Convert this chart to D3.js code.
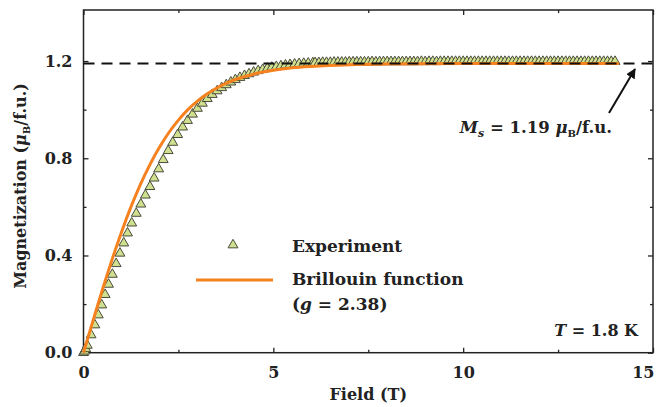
<!DOCTYPE html>
<html>
<head>
<meta charset="utf-8">
<script src="https://cdn.jsdelivr.net/npm/d3@7"></script>
<style>
  body { margin: 0; background: #fff; }
  svg text { font-family: "DejaVu Serif", serif; font-weight: bold; fill: #222; }
  .tick line { stroke: #222; stroke-width: 1.3; }
  .domain { display: none; }
</style>
</head>
<body>
<div id="chart"></div>
<script>
const fieldExp = [
  0.00, 0.03, 0.06, 0.10, 0.20, 0.30, 0.39, 0.48, 0.57, 0.66,
  0.76, 0.86, 0.96, 1.06, 1.16, 1.27, 1.39, 1.51, 1.63, 1.75,
  1.86, 1.98, 2.10, 2.23, 2.35, 2.48, 2.61, 2.74, 2.87, 3.00,
  3.13, 3.26, 3.39, 3.52, 3.64, 3.76, 3.88, 4.00, 4.12, 4.24,
  4.36, 4.48, 4.60, 4.72, 4.84, 4.96, 5.08, 5.20, 5.32, 5.44,
  5.56, 5.68, 5.80, 5.92, 6.04,
  6.1, 6.2, 6.3, 6.4, 6.5, 6.6, 6.7, 6.8, 6.9, 7.0,
  7.1, 7.2, 7.3, 7.4, 7.5, 7.6, 7.7, 7.8, 7.9, 8.0,
  8.1, 8.2, 8.3, 8.4, 8.5, 8.6, 8.7, 8.8, 8.9, 9.0,
  9.1, 9.2, 9.3, 9.4, 9.5, 9.6, 9.7, 9.8, 9.9, 10.0,
  10.1, 10.2, 10.3, 10.4, 10.5, 10.6, 10.7, 10.8, 10.9, 11.0,
  11.1, 11.2, 11.3, 11.4, 11.5, 11.6, 11.7, 11.8, 11.9, 12.0,
  12.1, 12.2, 12.3, 12.4, 12.5, 12.6, 12.7, 12.8, 12.9, 13.0,
  13.1, 13.2, 13.3, 13.4, 13.5, 13.6, 13.7, 13.8, 13.9, 14.0
];
const momentExp = [
  0.000, 0.006, 0.016, 0.030, 0.073, 0.114, 0.155, 0.196, 0.239, 0.281,
  0.322, 0.366, 0.409, 0.451, 0.492, 0.533, 0.573, 0.611, 0.648, 0.683,
  0.718, 0.756, 0.794, 0.831, 0.865, 0.897, 0.928, 0.955, 0.981, 1.005,
  1.026, 1.045, 1.062, 1.077, 1.090, 1.102, 1.113, 1.123, 1.132, 1.140,
  1.147, 1.154, 1.160, 1.165, 1.170, 1.174, 1.177, 1.180, 1.183, 1.185,
  1.187, 1.189, 1.190, 1.191, 1.192,
  1.193, 1.193, 1.194, 1.194, 1.194, 1.195, 1.195, 1.195, 1.195, 1.196,
  1.196, 1.196, 1.196, 1.196, 1.196, 1.197, 1.196, 1.197, 1.197, 1.197,
  1.197, 1.197, 1.197, 1.197, 1.197, 1.197, 1.197, 1.197, 1.198, 1.197,
  1.198, 1.198, 1.197, 1.198, 1.198, 1.198, 1.198, 1.198, 1.198, 1.198,
  1.198, 1.198, 1.198, 1.198, 1.198, 1.198, 1.198, 1.198, 1.198, 1.198,
  1.198, 1.198, 1.198, 1.198, 1.198, 1.198, 1.198, 1.198, 1.198, 1.198,
  1.198, 1.198, 1.198, 1.198, 1.198, 1.198, 1.198, 1.198, 1.198, 1.198,
  1.198, 1.198, 1.198, 1.198, 1.198, 1.198, 1.198, 1.198, 1.198, 1.198
];

// Brillouin curve (g = 2.38)
const fieldFit = [0, 0.25, 0.5, 0.75, 1.0, 1.25, 1.5, 1.75, 2.0, 2.25, 2.5, 2.75,
  3.0, 3.25, 3.5, 3.75, 4.0, 4.5, 5.0, 5.5, 6.0, 7.0, 8.0, 10.0, 12.0, 14.1];
const momentFit = [0, 0.131, 0.260, 0.382, 0.496, 0.600, 0.693, 0.774, 0.845, 0.906, 0.957, 1.000,
  1.035, 1.064, 1.088, 1.108, 1.124, 1.147, 1.162, 1.172, 1.178, 1.185, 1.188, 1.190, 1.190, 1.190];

const saturation = 1.19;
const xTicks = [0, 5, 10, 15], xMinor = [2.5, 7.5, 12.5];
const yTicks = [0, 0.4, 0.8, 1.2], yMinor = [0.2, 0.6, 1.0];

const svgWidth = 656, svgHeight = 407;
const plotLeft = 83.5, plotRight = 653, plotTop = 10, plotBottom = 352.7;

const svg = d3.select("#chart").append("svg")
  .attr("width", svgWidth)
  .attr("height", svgHeight);

const x = d3.scaleLinear().domain([0, 15]).range([plotLeft, plotRight]);
const y = d3.scaleLinear().domain([0, 1.41]).range([plotBottom, plotTop]);

// axes, ticks pointing inward
svg.append("g").attr("transform", `translate(0,${plotBottom})`)
  .call(d3.axisBottom(x).tickValues(xTicks).tickSize(-5).tickPadding(14).tickFormat(d3.format("d")))
  .call(g => g.selectAll("text").attr("font-size", 16).attr("font-family", null))
  .call(g => g.selectAll("text").filter(d => d === 15).attr("text-anchor", "end").attr("x", 1));
svg.append("g").attr("transform", `translate(0,${plotBottom})`)
  .call(d3.axisBottom(x).tickValues(xMinor).tickSize(-3).tickFormat(""));
svg.append("g").attr("transform", `translate(0,${plotTop})`)
  .call(d3.axisTop(x).tickValues(xTicks).tickSize(-5).tickFormat(""));
svg.append("g").attr("transform", `translate(0,${plotTop})`)
  .call(d3.axisTop(x).tickValues(xMinor).tickSize(-3).tickFormat(""));

svg.append("g").attr("transform", `translate(${plotLeft},0)`)
  .call(d3.axisLeft(y).tickValues(yTicks).tickSize(-5).tickPadding(11).tickFormat(d3.format(".1f")))
  .call(g => g.selectAll("text").attr("font-size", 16).attr("font-family", null));
svg.append("g").attr("transform", `translate(${plotLeft},0)`)
  .call(d3.axisLeft(y).tickValues(yMinor).tickSize(-3).tickFormat(""));
svg.append("g").attr("transform", `translate(${plotRight},0)`)
  .call(d3.axisRight(y).tickValues(yTicks).tickSize(-5).tickFormat(""));
svg.append("g").attr("transform", `translate(${plotRight},0)`)
  .call(d3.axisRight(y).tickValues(yMinor).tickSize(-3).tickFormat(""));

svg.append("rect")
  .attr("x", plotLeft).attr("y", plotTop)
  .attr("width", plotRight - plotLeft).attr("height", plotBottom - plotTop)
  .attr("fill", "none").attr("stroke", "#222").attr("stroke-width", 1.5);

// axis titles
svg.append("text")
  .attr("x", (plotLeft + plotRight) / 2).attr("y", 400)
  .attr("text-anchor", "middle").attr("font-size", 16)
  .text("Field (T)");

const yTitle = svg.append("text")
  .attr("transform", "translate(26,186) rotate(-90)")
  .attr("text-anchor", "middle").attr("font-size", 16);
yTitle.append("tspan").text("Magnetization (");
yTitle.append("tspan").attr("font-style", "italic").text("μ");
yTitle.append("tspan").attr("font-size", 10).attr("dy", 4).text("B");
yTitle.append("tspan").attr("dy", -4).text("/f.u.)");

// experiment
const tri = d3.symbol(d3.symbolTriangle).size(42);
const expData = fieldExp.map((f, i) => ({ f, m: momentExp[i] }));
svg.append("g").selectAll("path")
  .data(expData)
  .enter().append("path")
  .attr("d", tri)
  .attr("transform", d => `translate(${x(d.f)},${y(d.m)})`)
  .attr("fill", "#cfe08f")
  .attr("stroke", "#4a4a3c")
  .attr("stroke-width", 1);

// Brillouin fit
const fitData = fieldFit.map((f, i) => ({ f, m: momentFit[i] }));
svg.append("path")
  .datum(fitData)
  .attr("fill", "none")
  .attr("stroke", "#f5821f")
  .attr("stroke-width", 3)
  .attr("d", d3.line().x(d => x(d.f)).y(d => y(d.m)).curve(d3.curveMonotoneX));

// saturation line
svg.append("line")
  .attr("x1", plotLeft).attr("x2", plotRight)
  .attr("y1", y(saturation)).attr("y2", y(saturation))
  .attr("stroke", "#111").attr("stroke-width", 2)
  .attr("stroke-dasharray", "11,7");

// arrow + annotation
svg.append("defs").append("marker")
  .attr("id", "arrow").attr("viewBox", "0 0 10 10")
  .attr("refX", 9).attr("refY", 5)
  .attr("markerWidth", 5).attr("markerHeight", 5)
  .attr("orient", "auto")
  .append("path").attr("d", "M0,0L10,5L0,10z").attr("fill", "#111");

svg.append("line")
  .attr("x1", 609).attr("y1", 113).attr("x2", 635).attr("y2", 69)
  .attr("stroke", "#111").attr("stroke-width", 2)
  .attr("marker-end", "url(#arrow)");

const ms = svg.append("text")
  .attr("x", 612).attr("y", 133)
  .attr("text-anchor", "end").attr("font-size", 16.5);
ms.append("tspan").attr("font-style", "italic").text("M");
ms.append("tspan").attr("font-style", "italic").attr("font-size", 11).attr("dy", 4).text("s");
ms.append("tspan").attr("dy", -4).text(" = 1.19 ");
ms.append("tspan").attr("font-style", "italic").text("μ");
ms.append("tspan").attr("font-size", 10).attr("dy", 4).text("B");
ms.append("tspan").attr("dy", -4).text("/f.u.");

const temp = svg.append("text")
  .attr("x", 638).attr("y", 336)
  .attr("text-anchor", "end").attr("font-size", 16);
temp.append("tspan").attr("font-style", "italic").text("T");
temp.append("tspan").text(" = 1.8 K");

// legend
svg.append("path")
  .attr("d", tri)
  .attr("transform", "translate(233,245)")
  .attr("fill", "#cfe08f").attr("stroke", "#4a4a3c").attr("stroke-width", 1);
svg.append("text").attr("x", 292).attr("y", 252).attr("font-size", 17).text("Experiment");

svg.append("line")
  .attr("x1", 196).attr("x2", 273).attr("y1", 280).attr("y2", 280)
  .attr("stroke", "#f5821f").attr("stroke-width", 3);
svg.append("text").attr("x", 292).attr("y", 285).attr("font-size", 17).text("Brillouin function");
const gText = svg.append("text").attr("x", 292).attr("y", 310).attr("font-size", 17);
gText.append("tspan").text("(");
gText.append("tspan").attr("font-style", "italic").text("g");
gText.append("tspan").text(" = 2.38)");
</script>
</body>
</html>
